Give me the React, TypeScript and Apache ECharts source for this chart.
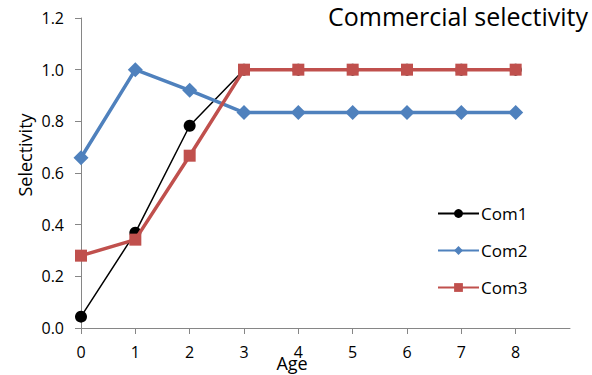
import React, { useEffect, useRef } from "react";
import * as echarts from "echarts";

const ages = [0, 1, 2, 3, 4, 5, 6, 7, 8];
const com1 = [0.044, 0.369, 0.783, 1.0, 1.0, 1.0, 1.0, 1.0, 1.0];
const com2 = [0.659, 1.0, 0.92, 0.834, 0.834, 0.834, 0.834, 0.834, 0.834];
const com3 = [0.28, 0.342, 0.667, 1.0, 1.0, 1.0, 1.0, 1.0, 1.0];
const xTicks = [0, 1, 2, 3, 4, 5, 6, 7, 8];

const FONT = "'Open Sans', 'Noto Sans', sans-serif";

export default function App() {
  const ref = useRef<HTMLDivElement>(null);
  useEffect(() => {
    if (!ref.current) return;
    const chart = echarts.init(ref.current, null, { renderer: "svg" });
    const pair = (ys: number[]) => ages.map((a, i) => [a, ys[i]]);
    chart.setOption({
      animation: false,
      backgroundColor: "#ffffff",
      title: {
        text: "Commercial selectivity",
        right: 4,
        top: 3,
        padding: 0,
        textStyle: { fontFamily: FONT, fontSize: 25, fontWeight: "normal", color: "#000" },
      },
      grid: { left: 81, top: 18, right: 22, bottom: 47 },
      legend: {
        orient: "vertical",
        left: 437,
        top: 205,
        padding: 0,
        itemWidth: 41,
        itemHeight: 11,
        itemGap: 20,
        textStyle: { fontFamily: FONT, fontSize: 17, lineHeight: 17, color: "#000", padding: [0, 0, 0, -3] },
        data: ["Com1", "Com2", "Com3"],
      },
      xAxis: {
        type: "value",
        min: 0,
        max: 9,
        interval: 1,
        axisLine: { lineStyle: { color: "#868686", width: 1 } },
        axisTick: { show: true, length: 6, customValues: xTicks, lineStyle: { color: "#868686" } },
        axisLabel: {
          customValues: xTicks,
          fontFamily: FONT,
          fontSize: 16,
          color: "#000",
          margin: 16,
        },
        splitLine: { show: false },
      },
      yAxis: {
        type: "value",
        min: 0,
        max: 1.2,
        interval: 0.2,
        axisLine: { show: true, lineStyle: { color: "#868686", width: 1 } },
        axisTick: { show: true, length: 6, lineStyle: { color: "#868686" } },
        axisLabel: {
          fontFamily: FONT,
          fontSize: 16,
          color: "#000",
          margin: 17,
          formatter: (v: number) => v.toFixed(1),
        },
        splitLine: { show: false },
      },
      graphic: [
        {
          type: "text",
          x: 292,
          y: 363,
          style: {
            text: "Age",
            font: `18px ${FONT}`,
            fill: "#000",
            textAlign: "center",
            textVerticalAlign: "middle",
          },
          z: 10,
        },
        {
          type: "text",
          x: 25,
          y: 155,
          rotation: Math.PI / 2,
          style: {
            text: "Selectivity",
            font: `18px ${FONT}`,
            fill: "#000",
            textAlign: "center",
            textVerticalAlign: "middle",
          },
        },
      ],
      series: [
        {
          name: "Com1",
          type: "line",
          data: pair(com1),
          symbol: "circle",
          symbolSize: 12,
          color: "#000000",
          lineStyle: { width: 1.5, color: "#000000" },
          itemStyle: { color: "#000000" },
          z: 3,
        },
        {
          name: "Com2",
          type: "line",
          data: pair(com2),
          symbol: "diamond",
          symbolSize: 15,
          color: "#4F81BD",
          lineStyle: { width: 3.5, color: "#4F81BD" },
          itemStyle: { color: "#4F81BD" },
          z: 4,
        },
        {
          name: "Com3",
          type: "line",
          data: pair(com3),
          symbol: "rect",
          symbolSize: 12,
          color: "#C0504D",
          lineStyle: { width: 3.5, color: "#C0504D" },
          itemStyle: { color: "#C0504D" },
          z: 5,
        },
      ],
    });
    return () => chart.dispose();
  }, []);
  return <div ref={ref} style={{ width: 592, height: 375, position: "absolute", left: 0, top: 0 }} />;
}
